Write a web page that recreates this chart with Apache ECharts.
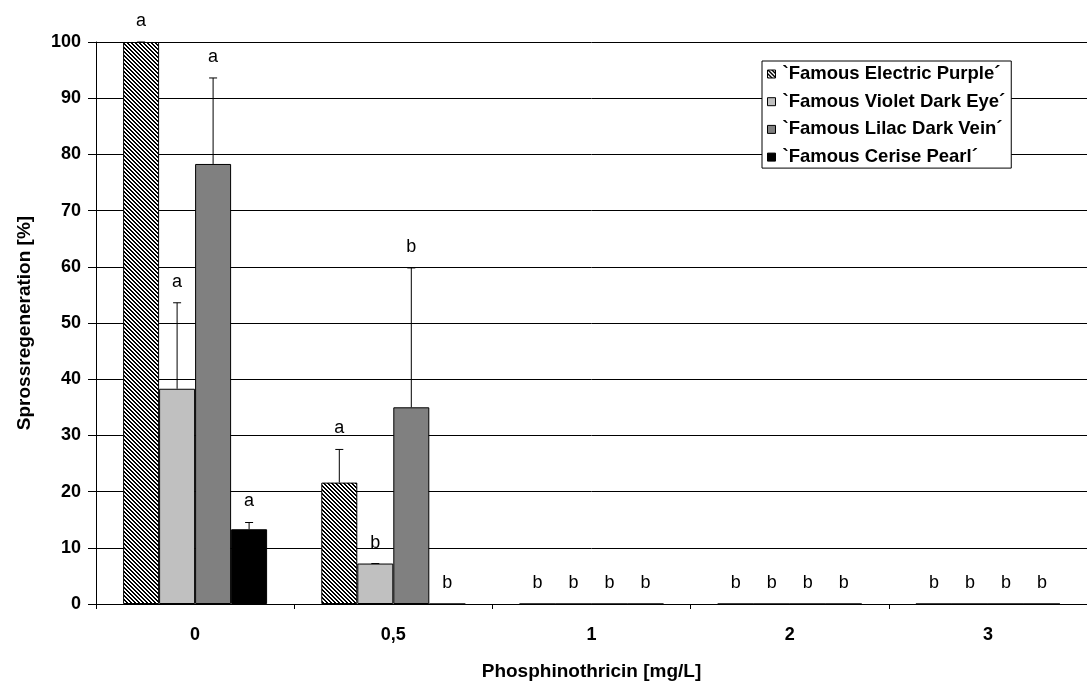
<!DOCTYPE html>
<html>
<head>
<meta charset="utf-8">
<script src="https://cdn.jsdelivr.net/npm/echarts@6/dist/echarts.min.js"></script>
<style>
  html, body { margin: 0; padding: 0; background: #fff; }
  #chart { width: 1087px; height: 686px; }
</style>
</head>
<body>
<div id="chart"></div>
<script>
// Phosphinothricin concentrations (mg/L)
const categories = ['0', '0,5', '1', '2', '3'];

// Cultivar names
const seriesNames = [
  '`Famous Electric Purple´',
  '`Famous Violet Dark Eye´',
  '`Famous Lilac Dark Vein´',
  '`Famous Cerise Pearl´'
];

// Shoot regeneration (%) per cultivar
const electricPurple = [100, 21.6, 0, 0, 0];
const violetDarkEye  = [38.3, 7.2, 0, 0, 0];
const lilacDarkVein  = [78.3, 35.0, 0, 0, 0];
const cerisePearl    = [13.3, 0, 0, 0, 0];

// Upper error (standard deviation)
const electricPurpleErr = [0, 5.9, 0, 0, 0];
const violetDarkEyeErr  = [15.3, 0, 0, 0, 0];
const lilacDarkVeinErr  = [15.3, 24.8, 0, 0, 0];
const cerisePearlErr    = [1.2, 0, 0, 0, 0];

// Significance letters
const electricPurpleSig = ['a', 'a', 'b', 'b', 'b'];
const violetDarkEyeSig  = ['a', 'b', 'b', 'b', 'b'];
const lilacDarkVeinSig  = ['a', 'b', 'b', 'b', 'b'];
const cerisePearlSig    = ['a', 'b', 'b', 'b', 'b'];

// Y axis ticks
const yMin = 0, yMax = 100, yStep = 10;

const values  = [electricPurple, violetDarkEye, lilacDarkVein, cerisePearl];
const errors  = [electricPurpleErr, violetDarkEyeErr, lilacDarkVeinErr, cerisePearlErr];
const letters = [electricPurpleSig, violetDarkEyeSig, lilacDarkVeinSig, cerisePearlSig];

const FONT = "'Liberation Sans', Arial, sans-serif";
const BAR_W = 36;

// Diagonal hatch tile for the first cultivar
function hatchTile() {
  const c = document.createElement('canvas');
  c.width = 8; c.height = 8;
  const ctx = c.getContext('2d');
  const img = ctx.createImageData(8, 8);
  for (let y = 0; y < 8; y++) {
    for (let x = 0; x < 8; x++) {
      const on = (((x - y) % 4) + 4) % 4 < 2;
      const v = on ? 0 : 255;
      const i = (y * 8 + x) * 4;
      img.data[i] = v; img.data[i + 1] = v; img.data[i + 2] = v; img.data[i + 3] = 255;
    }
  }
  ctx.putImageData(img, 0, 0);
  return c;
}

const fills = [
  { image: hatchTile(), repeat: 'repeat' },
  '#c0c0c0',
  '#808080',
  '#000000'
];

const barSeries = values.map((vals, s) => ({
  name: seriesNames[s],
  type: 'bar',
  data: vals,
  barWidth: BAR_W,
  barGap: '0%',
  itemStyle: { color: fills[s], borderColor: '#000', borderWidth: 1 },
  emphasis: { disabled: true },
  z: 2
}));

// Error bars and significance letters, drawn on top of the bars
const markData = [];
values.forEach((vals, s) => {
  vals.forEach((v, c) => {
    markData.push([c, v, errors[s][c], s]);
  });
});

const overlay = {
  type: 'custom',
  name: 'overlay',
  data: markData,
  encode: { x: 0, y: 1 },
  z: 5,
  silent: true,
  renderItem(params, api) {
    const c = api.value(0), v = api.value(1), e = api.value(2), s = api.value(3);
    const base = api.coord([c, v]);
    const top = api.coord([c, v + e]);
    const cx = base[0] + (s - 1.5) * BAR_W;
    const children = [];
    if (v > 0) {
      children.push({
        type: 'line',
        shape: { x1: cx, y1: base[1], x2: cx, y2: top[1] },
        style: { stroke: '#000', lineWidth: 1 }
      });
      children.push({
        type: 'line',
        shape: { x1: cx - 4, y1: top[1], x2: cx + 4, y2: top[1] },
        style: { stroke: '#000', lineWidth: 1 }
      });
    }
    children.push({
      type: 'text',
      style: {
        x: cx,
        y: top[1] - 12,
        text: letters[s][c],
        fill: '#000',
        font: "18px " + FONT,
        align: 'center',
        verticalAlign: 'bottom'
      }
    });
    return { type: 'group', children };
  }
};

const chart = echarts.init(document.getElementById('chart'), null, { renderer: 'canvas' });
chart.setOption({
  animation: false,
  backgroundColor: '#fff',
  textStyle: { fontFamily: FONT },
  grid: { left: 96, right: -4, top: 42, bottom: 82 },
  legend: {
    data: seriesNames,
    orient: 'vertical',
    left: 762,
    top: 61,
    itemWidth: 8,
    itemHeight: 8,
    itemGap: 7.7,
    padding: [3, 6, 1, 5],
    backgroundColor: '#fff',
    borderColor: '#000',
    borderWidth: 1,
    selectedMode: false,
    textStyle: { fontFamily: FONT, fontWeight: 'bold', fontSize: 18.5, lineHeight: 20, color: '#000', padding: [0, 0, 0, 2] },
    icon: 'rect',
    itemStyle: { borderColor: '#000', borderWidth: 1 }
  },
  xAxis: {
    type: 'category',
    data: categories,
    name: 'Phosphinothricin [mg/L]',
    nameLocation: 'middle',
    nameGap: 58,
    nameTextStyle: { fontFamily: FONT, fontWeight: 'bold', fontSize: 19, color: '#000' },
    axisLine: { lineStyle: { color: '#000', width: 1 } },
    axisTick: { show: true, length: 5, lineStyle: { color: '#000' } },
    axisLabel: { fontFamily: FONT, fontWeight: 'bold', fontSize: 18, color: '#000', margin: 22 },
    splitLine: { show: false }
  },
  yAxis: {
    type: 'value',
    min: yMin,
    max: yMax,
    interval: yStep,
    name: 'Sprossregeneration [%]',
    nameLocation: 'middle',
    nameRotate: 90,
    nameGap: 62,
    nameTextStyle: { fontFamily: FONT, fontWeight: 'bold', fontSize: 19, color: '#000' },
    axisLine: { show: true, lineStyle: { color: '#000', width: 1 } },
    axisTick: { show: true, inside: false, length: 8, lineStyle: { color: '#000' } },
    axisLabel: { fontFamily: FONT, fontWeight: 'bold', fontSize: 18, color: '#000', margin: 15 },
    splitLine: { show: true, lineStyle: { color: '#000', width: 1 } }
  },
  series: [...barSeries, overlay]
});
</script>
</body>
</html>
